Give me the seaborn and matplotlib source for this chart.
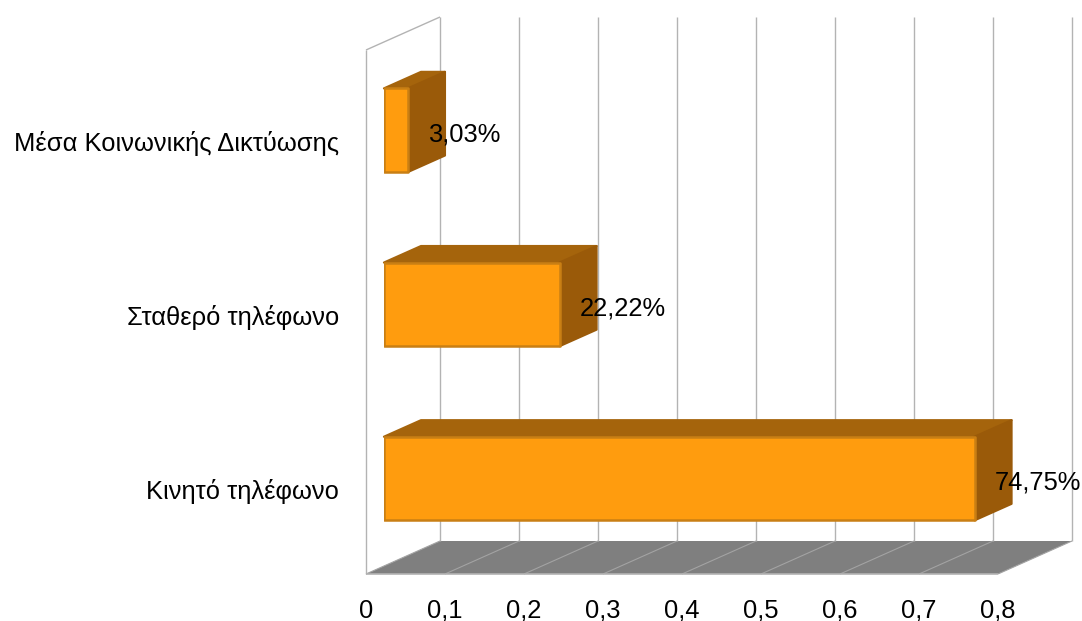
import matplotlib
matplotlib.use("Agg")
import matplotlib.pyplot as plt
import pandas as pd
import seaborn as sns
from matplotlib.patches import Polygon
from matplotlib.transforms import Affine2D

channels = ["Μέσα Κοινωνικής Δικτύωσης", "Σταθερό τηλέφωνο", "Κινητό τηλέφωνο"]
shares = [0.0303, 0.2222, 0.7475]
x_ticks = [0, 0.1, 0.2, 0.3, 0.4, 0.5, 0.6, 0.7, 0.8]

FRONT_COLOR = "#ff9c0e"
FRONT_EDGE = "#c97f14"
TOP_COLOR = "#a5640c"
SIDE_COLOR = "#9a5a09"
FLOOR_COLOR = "#7f7f7f"
GRID_COLOR = "#b3b3b3"
FONT_SIZE = 18.4

W, H = 1082, 621
sns.set_style("white")
plt.rcParams["font.family"] = ["Liberation Sans", "DejaVu Sans"]
plt.rcParams["font.size"] = FONT_SIZE

fig = plt.figure(figsize=(W / 100, H / 100), dpi=100, facecolor="white")
ax = fig.add_axes([384 / W, 1 - 565.6 / H, 632 / W, 522.5 / H])
ax.patch.set_alpha(0)

frame = pd.DataFrame({"channel": channels, "share": shares})
sns.barplot(data=frame, x="share", y="channel", orient="h", width=0.48,
            color=FRONT_COLOR, saturation=1, ax=ax, zorder=4,
            edgecolor=FRONT_EDGE, linewidth=1.8)
ax.set_xlim(0, 0.8)
ax.set_ylim(2.5, -0.5)
ax.set_xlabel("")
ax.set_ylabel("")
sns.despine(ax=ax, left=True, bottom=True)

# pixel space with the origin at the top left, used for the pseudo-3D box
pixels = Affine2D().scale(1, -1).translate(0, H)


def px(value):
    return ax.transData.transform((value, 0))[0]


FRONT_SHIFT, BACK_SHIFT = -18, 56
FLOOR_FRONT_Y, FLOOR_BACK_Y = 574, 541
WALL_TOP_BACK, WALL_TOP_FRONT = 17, 50
BAR_DX, BAR_DY = 37, 16.5


def add_line(xs, ys, color=GRID_COLOR, lw=1.0, z=1):
    ax.plot(xs, ys, transform=pixels, color=color, lw=lw, zorder=z,
            clip_on=False, solid_capstyle="butt")


# floor of the box
x_front = [px(t) + FRONT_SHIFT for t in x_ticks]
x_back = [px(t) + BACK_SHIFT for t in x_ticks]
ax.add_patch(Polygon(
    [(x_front[0], FLOOR_FRONT_Y), (x_back[0], FLOOR_BACK_Y),
     (x_back[-1], FLOOR_BACK_Y), (x_front[-1], FLOOR_FRONT_Y)],
    closed=True, transform=pixels, facecolor=FLOOR_COLOR, edgecolor="none",
    zorder=1, clip_on=False))

# back-wall gridlines and their continuation across the floor
for xf, xb in zip(x_front, x_back):
    add_line([xb, xb], [WALL_TOP_BACK, FLOOR_BACK_Y])
    add_line([xf, xb], [FLOOR_FRONT_Y, FLOOR_BACK_Y], color="#a3a3a3", lw=0.8, z=2)

# left wall outline and front floor edge
add_line([x_front[0], x_front[0]], [WALL_TOP_FRONT, FLOOR_FRONT_Y])
add_line([x_front[0], x_back[0]], [WALL_TOP_FRONT, WALL_TOP_BACK])
add_line([x_front[0], x_front[-1]], [FLOOR_FRONT_Y, FLOOR_FRONT_Y], lw=1.2, z=3)

# extruded top and side faces of every bar, derived from the bar rectangles
for bar, share in zip(ax.patches, shares):
    bar.set_joinstyle("round")
    (x0, y_a), (x1, y_b) = ax.transData.transform(bar.get_bbox().get_points())
    y_top, y_bottom = sorted((H - y_a, H - y_b))
    top_face = [(x0, y_top), (x0 + BAR_DX, y_top - BAR_DY),
                (x1 + BAR_DX, y_top - BAR_DY), (x1, y_top)]
    side_face = [(x1, y_top), (x1 + BAR_DX, y_top - BAR_DY),
                 (x1 + BAR_DX, y_bottom - BAR_DY), (x1, y_bottom)]
    for face, shade in ((top_face, TOP_COLOR), (side_face, SIDE_COLOR)):
        ax.add_patch(Polygon(face, closed=True, transform=pixels,
                             facecolor=shade, edgecolor=shade, lw=1.6,
                             joinstyle="round", zorder=3.5, clip_on=False))
    ax.annotate(f"{share * 100:.2f}%".replace(".", ","),
                xy=(share, bar.get_y() + bar.get_height() / 2),
                xytext=(20, -4), textcoords="offset pixels",
                ha="left", va="center", fontsize=FONT_SIZE, color="black",
                zorder=6, annotation_clip=False)

# axis labels sit on the front plane of the box
ax.set_xticks(x_ticks)
ax.set_xticklabels([f"{t:g}".replace(".", ",") for t in x_ticks])
ax.tick_params(axis="both", length=0, labelsize=FONT_SIZE, labelcolor="black")
ax.tick_params(axis="x", pad=24)
ax.tick_params(axis="y", pad=32.5)
for label in ax.get_xticklabels():
    label.set_transform(label.get_transform() + Affine2D().translate(FRONT_SHIFT, 0))
for label in ax.get_yticklabels():
    label.set_transform(label.get_transform() + Affine2D().translate(0, -10.5))

fig.savefig("out.png", dpi=100)
